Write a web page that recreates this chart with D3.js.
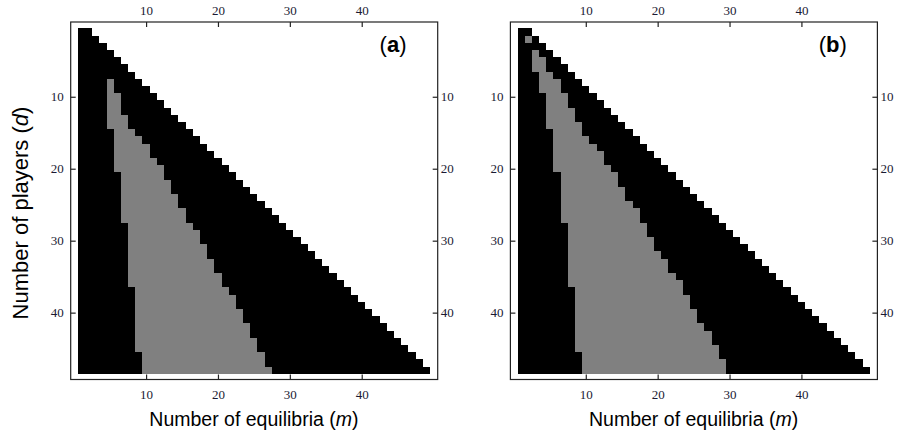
<!DOCTYPE html>
<html>
<head>
<meta charset="utf-8">
<script src="https://cdn.jsdelivr.net/npm/d3@7"></script>
<style>
  body { margin: 0; background: #fff; }
</style>
</head>
<body>
<svg id="chart" width="897" height="439"></svg>
<script>
// rows = number of players d, columns = number of equilibria m
const players = [1,2,3,4,5,6,7,8,9,10,11,12,13,14,15,16,17,18,19,20,21,22,23,24,
  25,26,27,28,29,30,31,32,33,34,35,36,37,38,39,40,41,42,43,44,45,46,47,48]
// largest m shown in each row
const maxEq = [2,3,4,5,6,7,8,9,10,11,12,13,14,15,16,17,18,19,20,21,22,23,24,25,
  26,27,28,29,30,31,32,33,34,35,36,37,38,39,40,41,42,43,44,45,46,47,48,49]

// gray band per row (first and last m that is gray, 0 = none)
const grayStartA = [0,0,0,0,0,0,0,5,5,5,5,5,5,5,6,6,6,6,6,6,7,7,7,7,
  7,7,7,8,8,8,8,8,8,8,8,8,9,9,9,9,9,9,9,9,9,10,10,10]
const grayEndA = [0,0,0,0,0,0,0,5,5,6,6,6,7,7,8,9,10,10,11,12,12,13,13,14,
  14,15,15,16,17,17,18,18,19,19,20,20,21,22,22,23,23,24,24,25,25,26,26,27]
const grayStartB = [0,2,0,3,3,3,4,4,4,5,5,5,5,5,6,6,6,6,6,6,7,7,7,7,
  7,7,7,8,8,8,8,8,8,8,8,8,9,9,9,9,9,9,9,9,9,10,10,10]
const grayEndB = [0,2,0,3,4,4,5,6,6,7,7,8,8,9,9,10,11,12,12,13,14,14,15,15,
  16,17,17,18,18,19,19,20,21,21,22,23,23,24,24,25,25,26,27,27,28,28,29,29]

const xTicks = [10, 20, 30, 40]
const yTicks = [10, 20, 30, 40]

const panels = [
  { label: "a", dx: 0, start: grayStartA, end: grayEndA },
  { label: "b", dx: 439.7, start: grayStartB, end: grayEndB }
]

const svg = d3.select("#chart")
const tickFont = "'Liberation Serif', 'Times New Roman', serif"
const sansFont = "'Liberation Sans', Arial, Helvetica, sans-serif"

panels.forEach(p => {
  const g = svg.append("g").attr("transform", "translate(" + p.dx + ",0)")

  let x = d3.scaleLinear().domain([0.5, 49.5]).range([77.8, 430])
  let y = d3.scaleLinear().domain([0.5, 48.5]).range([28.4, 373.8])

  const frame = { left: 70.7, right: 437.7, top: 22, bottom: 379.5 }

  // cells: one black strip per row, gray band on top
  let rows = players.map((d, i) => ({
    d: d, max: maxEq[i], s: p.start[i], e: p.end[i]
  }))

  g.append("g")
    .selectAll("rect.row")
    .data(rows)
    .enter()
    .append("rect")
    .attr("class", "row")
    .attr("x", x(0.5))
    .attr("y", r => y(r.d - 0.5))
    .attr("width", r => x(r.max + 0.5) - x(0.5))
    .attr("height", r => y(r.d + 0.5) - y(r.d - 0.5))
    .attr("fill", "#000")
    .attr("shape-rendering", "crispEdges")

  g.append("g")
    .selectAll("rect.gray")
    .data(rows.filter(r => r.s > 0))
    .enter()
    .append("rect")
    .attr("class", "gray")
    .attr("x", r => x(r.s - 0.5))
    .attr("y", r => y(r.d - 0.5))
    .attr("width", r => x(r.e + 0.5) - x(r.s - 0.5))
    .attr("height", r => y(r.d + 0.5) - y(r.d - 0.5))
    .attr("fill", "#808080")
    .attr("shape-rendering", "crispEdges")

  // frame
  g.append("rect")
    .attr("x", frame.left)
    .attr("y", frame.top)
    .attr("width", frame.right - frame.left)
    .attr("height", frame.bottom - frame.top)
    .attr("fill", "none")
    .attr("stroke", "#222")
    .attr("stroke-width", 1.2)

  //axes, ticks pointing inward
  const styleAxis = sel => {
    sel.select(".domain").remove()
    sel.selectAll(".tick line").attr("stroke", "#222").attr("stroke-width", 1.2)
    sel.selectAll(".tick text")
      .attr("fill", "#1a1a33")
      .style("font-family", tickFont)
      .style("font-size", "13px")
  }

  g.append("g")
    .attr("transform", "translate(0," + frame.top + ")")
    .call(d3.axisTop(x).tickValues(xTicks).tickSize(-5).tickPadding(7))
    .call(styleAxis)
  g.append("g")
    .attr("transform", "translate(0," + frame.bottom + ")")
    .call(d3.axisBottom(x).tickValues(xTicks).tickSize(-5).tickPadding(10))
    .call(styleAxis)
  g.append("g")
    .attr("transform", "translate(" + frame.left + ",0)")
    .call(d3.axisLeft(y).tickValues(yTicks).tickSize(-5).tickPadding(7))
    .call(styleAxis)
  g.append("g")
    .attr("transform", "translate(" + frame.right + ",0)")
    .call(d3.axisRight(y).tickValues(yTicks).tickSize(-5).tickPadding(3))
    .call(styleAxis)

  // panel letter
  let lab = g.append("text")
    .attr("x", 393)
    .attr("y", 52)
    .attr("text-anchor", "middle")
    .style("font-family", sansFont)
    .style("font-size", "22px")
    .attr("fill", "#000")
  lab.append("tspan").text("(")
  lab.append("tspan").style("font-weight", "bold").text(p.label)
  lab.append("tspan").text(")")

  // x title
  let xt = g.append("text")
    .attr("x", (x(0.5) + x(49.5)) / 2)
    .attr("y", 426)
    .attr("text-anchor", "middle")
    .style("font-family", sansFont)
    .style("font-size", "19.5px")
    .attr("fill", "#000")
  xt.append("tspan").text("Number of equilibria (")
  xt.append("tspan").style("font-style", "italic").text("m")
  xt.append("tspan").text(")")
})

// y title (left of panel a only)
let yt = svg.append("text")
  .attr("transform", "translate(28,213) rotate(-90)")
  .attr("text-anchor", "middle")
  .style("font-family", sansFont)
  .style("font-size", "22px")
  .attr("fill", "#000")
yt.append("tspan").text("Number of players (")
yt.append("tspan").style("font-style", "italic").text("d")
yt.append("tspan").text(")")
</script>
</body>
</html>
